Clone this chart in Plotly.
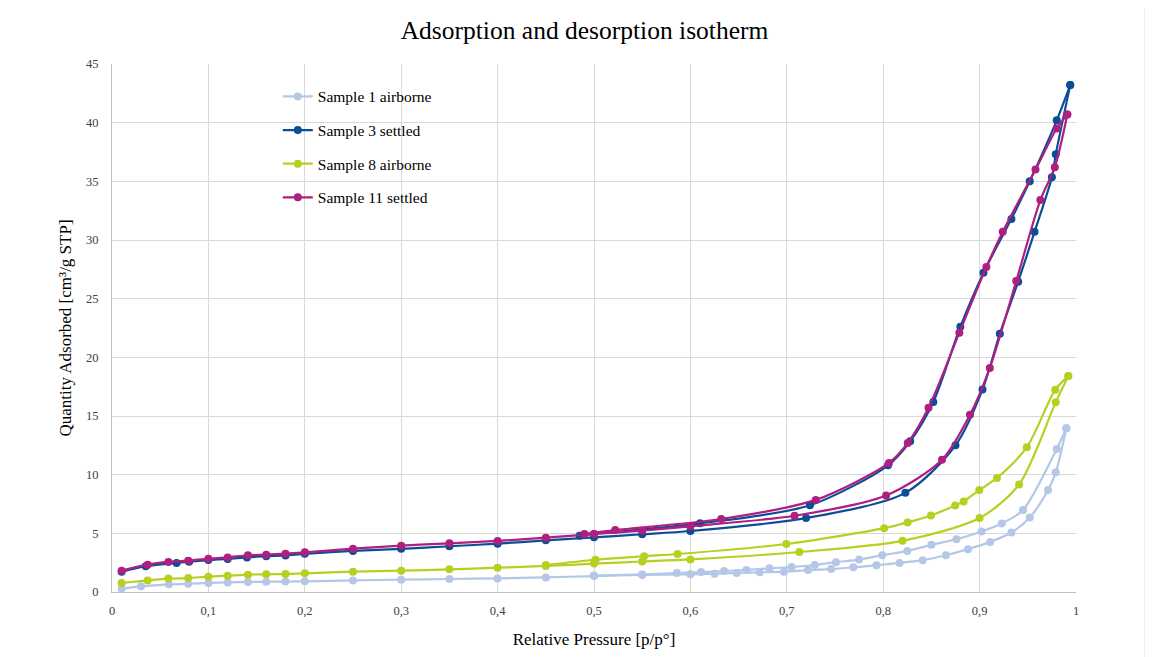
import plotly.graph_objects as go

# ---- data ----
s1_ads_x = [0.01, 0.03, 0.059, 0.079, 0.1, 0.12, 0.141, 0.16, 0.18, 0.2, 0.25, 0.3, 0.35, 0.4, 0.45, 0.5, 0.55, 0.6,
            0.625, 0.648, 0.672, 0.697, 0.722, 0.746, 0.769, 0.793, 0.817, 0.841, 0.865, 0.888, 0.911, 0.933, 0.952,
            0.971, 0.979, 0.99]
s1_ads_y = [0.28, 0.48, 0.65, 0.71, 0.77, 0.82, 0.85, 0.88, 0.89, 0.91, 0.99, 1.05, 1.11, 1.16, 1.24, 1.36, 1.45, 1.51,
            1.56, 1.62, 1.68, 1.73, 1.87, 1.95, 2.1, 2.28, 2.48, 2.71, 3.13, 3.65, 4.27, 5.07, 6.35,
            8.69, 10.2, 13.96]
s1_des_x = [0.99, 0.98, 0.945, 0.923, 0.902, 0.876, 0.85, 0.825, 0.799, 0.775, 0.751, 0.729, 0.705, 0.682, 0.658,
            0.635, 0.611, 0.586, 0.55, 0.5]
s1_des_y = [13.96, 12.19, 6.98, 5.84, 5.16, 4.50, 4.02, 3.50, 3.13, 2.76, 2.54, 2.30, 2.13, 2.02, 1.88,
            1.79, 1.70, 1.62, 1.5, 1.4]

s3_ads_x = [0.01, 0.035, 0.067, 0.08, 0.1, 0.12, 0.14, 0.16, 0.18, 0.2, 0.25, 0.3, 0.35, 0.4, 0.45, 0.5, 0.55, 0.6,
            0.72, 0.823, 0.875, 0.903, 0.921, 0.94, 0.957, 0.975, 0.979, 0.994]
s3_ads_y = [1.72, 2.2, 2.47, 2.58, 2.72, 2.82, 2.95, 3.05, 3.12, 3.25, 3.5, 3.68, 3.9, 4.12, 4.4, 4.66, 4.92, 5.2,
            6.3, 8.45, 12.5, 17.25, 22.0, 26.45, 30.7, 35.35, 37.3, 43.2]
s3_des_x = [0.994, 0.98, 0.952, 0.933, 0.904, 0.880, 0.852, 0.828, 0.805, 0.724, 0.61, 0.5, 0.485]
s3_des_y = [43.2, 40.2, 35.0, 31.8, 27.2, 22.6, 16.2, 12.85, 10.8, 7.39, 5.85, 4.95, 4.8]

s8_ads_x = [0.01, 0.037, 0.0585, 0.079, 0.1, 0.12, 0.141, 0.16, 0.18, 0.2, 0.25, 0.3, 0.35, 0.4, 0.45, 0.5, 0.55, 0.6,
            0.713, 0.82, 0.9, 0.941, 0.979, 0.992]
s8_ads_y = [0.77, 0.99, 1.14, 1.19, 1.31, 1.39, 1.48, 1.51, 1.53, 1.59, 1.73, 1.82, 1.93, 2.07, 2.22, 2.42, 2.6, 2.78,
            3.41, 4.36, 6.3, 9.17, 16.18, 18.4]
s8_des_x = [0.992, 0.9785, 0.949, 0.918, 0.8997, 0.8834, 0.8747, 0.8495, 0.8253, 0.801, 0.6995, 0.5867, 0.552,
            0.5015, 0.45]
s8_des_y = [18.4, 17.24, 12.34, 9.72, 8.69, 7.72, 7.38, 6.52, 5.93, 5.44, 4.09, 3.24, 3.05, 2.75, 2.3]

s11_ads_x = [0.01, 0.037, 0.0585, 0.079, 0.1, 0.12, 0.141, 0.16, 0.18, 0.2, 0.25, 0.3, 0.35, 0.4, 0.45, 0.5, 0.55,
             0.6, 0.708, 0.803, 0.861, 0.89, 0.9106, 0.938, 0.963, 0.978, 0.991]
s11_ads_y = [1.82, 2.33, 2.56, 2.67, 2.84, 2.95, 3.13, 3.18, 3.27, 3.38, 3.69, 3.95, 4.15, 4.35, 4.63, 4.95, 5.23,
             5.6, 6.5, 8.22, 11.27, 15.1, 19.1, 26.5, 33.4, 36.2, 40.7]
s11_des_x = [0.991, 0.980, 0.958, 0.924, 0.907, 0.879, 0.847, 0.8255, 0.806, 0.730, 0.632, 0.522, 0.49]
s11_des_y = [40.7, 39.5, 36.0, 30.7, 27.7, 22.1, 15.7, 12.7, 11.0, 7.85, 6.22, 5.28, 4.95]

series_names = ["Sample 1 airborne", "Sample 3 settled", "Sample 8 airborne", "Sample 11 settled"]
series_colors = ["#b4c7e7", "#0b4d96", "#b8cf22", "#ae1f80"]

series = [
    (s1_ads_x, s1_ads_y, s1_des_x, s1_des_y),
    (s3_ads_x, s3_ads_y, s3_des_x, s3_des_y),
    (s8_ads_x, s8_ads_y, s8_des_x, s8_des_y),
    (s11_ads_x, s11_ads_y, s11_des_x, s11_des_y),
]

SERIF = "Liberation Serif, Times New Roman, serif"

fig = go.Figure()
for name, color, (ax, ay, dx, dy) in zip(series_names, series_colors, series):
    common = dict(mode="lines+markers", legendgroup=name,
                  line=dict(color=color, width=2.2, shape="spline", smoothing=0.8),
                  marker=dict(color=color, size=8))
    fig.add_trace(go.Scatter(x=ax, y=ay, name=name, showlegend=True, **common))
    fig.add_trace(go.Scatter(x=dx, y=dy, name=name, showlegend=False, **common))

# white box behind legend (covers gridlines)
fig.add_shape(type="rect", xref="paper", yref="paper", layer="between",
              x0=0.117, x1=0.397, y0=0.714, y1=0.992,
              fillcolor="white", line=dict(width=0))
# outer chart border
fig.add_shape(type="rect", xref="paper", yref="paper", layer="below",
              x0=(7 - 112) / 964, x1=(1145 - 112) / 964, y0=(592 - 660) / 528, y1=(592 - 5) / 528,
              fillcolor="rgba(0,0,0,0)", line=dict(color="#d9d9d9", width=1))

fig.update_layout(
    width=1153, height=657,
    margin=dict(l=104, r=85, t=56, b=73),
    paper_bgcolor="white", plot_bgcolor="white",
    separators=", ",
    title=dict(text="Adsorption and desorption isotherm", x=0.5, xref="container", xanchor="center",
               y=1 - 22 / 657, yanchor="middle",
               font=dict(family=SERIF, size=25.5, color="#000000")),
    font=dict(family=SERIF, color="#000000"),
    legend=dict(x=0.172, y=0.970, xanchor="left", yanchor="top",
                bgcolor="rgba(0,0,0,0)", borderwidth=0,
                font=dict(family=SERIF, size=15.5, color="#000000"),
                traceorder="grouped", tracegroupgap=10.5, itemwidth=30),
    showlegend=True,
)
fig.update_xaxes(range=[0, 1], dtick=0.1, tick0=0, showgrid=True, gridcolor="#d9d9d9", gridwidth=1,
                 zeroline=False, showline=True, linecolor="#bfbfbf", linewidth=1,
                 ticks="", tickfont=dict(family=SERIF, size=12.5, color="#404040"), ticklabelstandoff=7,
                 title=dict(text="Relative Pressure [p/p°]", font=dict(family=SERIF, size=17, color="#000000"),
                            standoff=16))
fig.update_yaxes(range=[0, 45], dtick=5, tick0=0, showgrid=True, gridcolor="#d9d9d9", gridwidth=1,
                 zeroline=False, showline=True, linecolor="#bfbfbf", linewidth=1,
                 ticks="", tickfont=dict(family=SERIF, size=12.5, color="#404040"), ticklabelstandoff=10,
                 title=dict(text="Quantity Adsorbed [cm³/g STP]", font=dict(family=SERIF, size=17, color="#000000"),
                            standoff=10))

fig.write_html("out.html")
